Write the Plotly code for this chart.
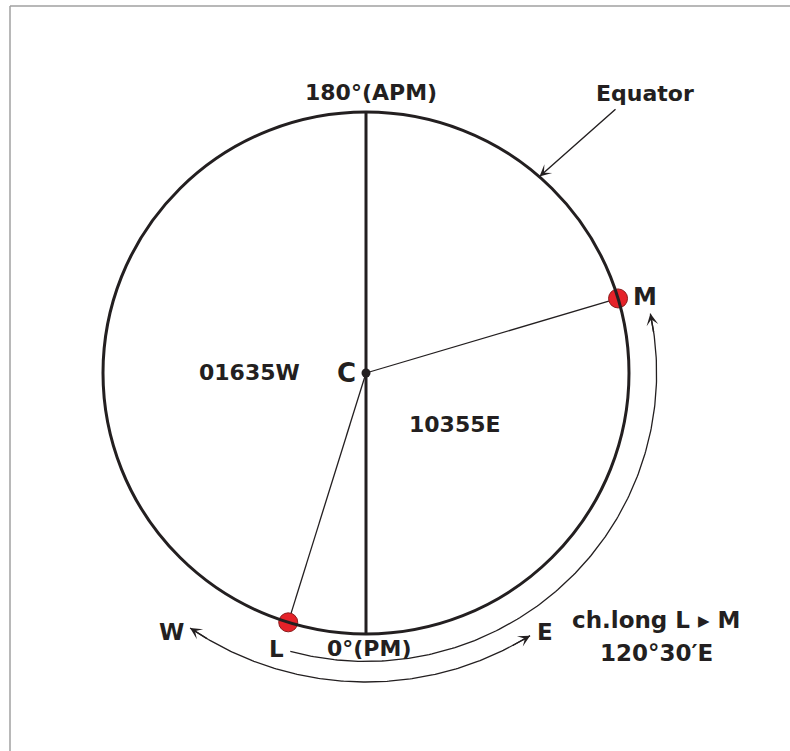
import numpy as np
import plotly.graph_objects as go

# ---------------- data ----------------
point_names = ["L", "M"]
point_lon_deg = [-17.2, 106.6]          # positions of L and M on the equator as drawn (W -, E +)
longitude_labels = ["01635W", "10355E"]
meridian_labels = ["180°(APM)", "0°(PM)"]
direction_labels = ["W", "E"]
result_lines = ["ch.long L ▸ M", "120°30′E"]
arc_LM_lon = [-15.1, 101.9]             # ch.long arc (eastward from L to M)
arc_WE_lon = [-34.4, 31.8]              # W <-> E direction arc
arc_LM_r = 1.105
arc_WE_r = 1.184

# ---------------- geometry helpers ----------------
CX, CY, SX, SY = 366.0, 373.0, 263.0, 261.0   # pixel centre and scale of the unit circle
W, H = 790, 751


def px(x, y):
    """pixel position -> data coords (for label placement)"""
    return (x - CX) / SX, (CY - y) / SY


def lonxy(lon, r=1.0):
    t = np.radians(270.0 + np.asarray(lon, dtype=float))
    return r * np.cos(t), r * np.sin(t)


INK = "#231f20"
FONT = "DejaVu Sans"
fig = go.Figure()

# equator circle
fig.add_shape(type="circle", x0=-1, y0=-1, x1=1, y1=1, xref="x", yref="y",
              line=dict(color=INK, width=3))
# prime / anti-prime meridian
mx0, my0 = lonxy(180)
mx1, my1 = lonxy(0)
fig.add_trace(go.Scatter(x=[mx0, mx1], y=[my0, my1], mode="lines",
                         line=dict(color=INK, width=3), hoverinfo="skip"))

# radii C->L, C->M
for lon in point_lon_deg:
    x, y = lonxy(lon)
    fig.add_trace(go.Scatter(x=[0, x], y=[0, y], mode="lines",
                             line=dict(color=INK, width=1.3), hoverinfo="skip"))

# arcs
def arc(lon0, lon1, r):
    a = np.linspace(lon0, lon1, 200)
    return lonxy(a, r)

for (l0, l1), r in ((arc_LM_lon, arc_LM_r), (arc_WE_lon, arc_WE_r)):
    ax_, ay_ = arc(l0, l1, r)
    fig.add_trace(go.Scatter(x=ax_, y=ay_, mode="lines",
                             line=dict(color=INK, width=1.3), hoverinfo="skip"))

annotations = []


def arrow_head(lon_tip, lon_back, r):
    tx, ty = lonxy(lon_tip, r)
    bx, by = lonxy(lon_back, r)
    annotations.append(dict(x=float(tx), y=float(ty), ax=float(bx), ay=float(by),
                             xref="x", yref="y", axref="x", ayref="y", text="",
                             showarrow=True, arrowhead=3, arrowsize=1.4,
                             arrowwidth=1.4, arrowcolor=INK))

arrow_head(arc_LM_lon[1], arc_LM_lon[1] - 4, arc_LM_r)
arrow_head(arc_WE_lon[0], arc_WE_lon[0] + 4, arc_WE_r)
arrow_head(arc_WE_lon[1], arc_WE_lon[1] - 4, arc_WE_r)

# Equator pointer arrow
tipx, tipy = px(539.5, 176.5)
tlx, tly = px(617, 108)
annotations.append(dict(x=tipx, y=tipy, ax=tlx, ay=tly, xref="x", yref="y",
                        axref="x", ayref="y", text="", showarrow=True,
                        arrowhead=3, arrowsize=1.4, arrowwidth=1.4, arrowcolor=INK))

# centre dot
fig.add_trace(go.Scatter(x=[0], y=[0], mode="markers",
                         marker=dict(color=INK, size=9), hoverinfo="skip"))
# L and M points
lx, ly = lonxy(point_lon_deg)
fig.add_trace(go.Scatter(x=lx, y=ly, mode="markers",
                         marker=dict(color="#e52229", size=19,
                                     line=dict(color="#8a1c1c", width=1)),
                         hoverinfo="skip"))


def label(text, pxx, pyy, size=22):
    x, y = px(pxx, pyy)
    annotations.append(dict(x=x, y=y, xref="x", yref="y", text=text, showarrow=False,
                            xanchor="center", yanchor="middle",
                            font=dict(family=FONT, size=size, color=INK, weight="bold")))

label(meridian_labels[0], 371, 92)
label(meridian_labels[1], 369, 648)
label("Equator", 644.5, 93)
label(point_names[1], 645, 297, 24)
label(point_names[0], 276, 649, 23)
label("C", 346, 373, 26)
label(longitude_labels[0], 249.5, 372)
label(longitude_labels[1], 455, 424)
label(direction_labels[0], 171, 632, 23)
label(direction_labels[1], 544.5, 632, 23)
label(result_lines[0], 655.5, 620, 23)
label(result_lines[1], 656, 653, 23)

# frame lines (top and left)
shapes_frame = [
    dict(type="line", xref="paper", yref="paper", x0=10 / W, x1=1,
         y0=1 - 6 / H, y1=1 - 6 / H, line=dict(color="#a0a0a0", width=1.5)),
    dict(type="line", xref="paper", yref="paper", x0=10 / W, x1=10 / W,
         y0=0, y1=1 - 6 / H, line=dict(color="#a0a0a0", width=1.5)),
]
for s in shapes_frame:
    fig.add_shape(**s)

fig.update_layout(
    width=W, height=H, margin=dict(l=0, r=0, t=0, b=0),
    paper_bgcolor="white", plot_bgcolor="white", showlegend=False,
    annotations=annotations, hovermode=False,
    xaxis=dict(range=[(0 - CX) / SX, (W - CX) / SX], visible=False, fixedrange=True),
    yaxis=dict(range=[(CY - H) / SY, CY / SY], visible=False, fixedrange=True),
)

fig.write_html("out.html", config={"displayModeBar": False},
               post_script="document.body.style.margin='0';"
                           "document.body.style.overflow='hidden';")
